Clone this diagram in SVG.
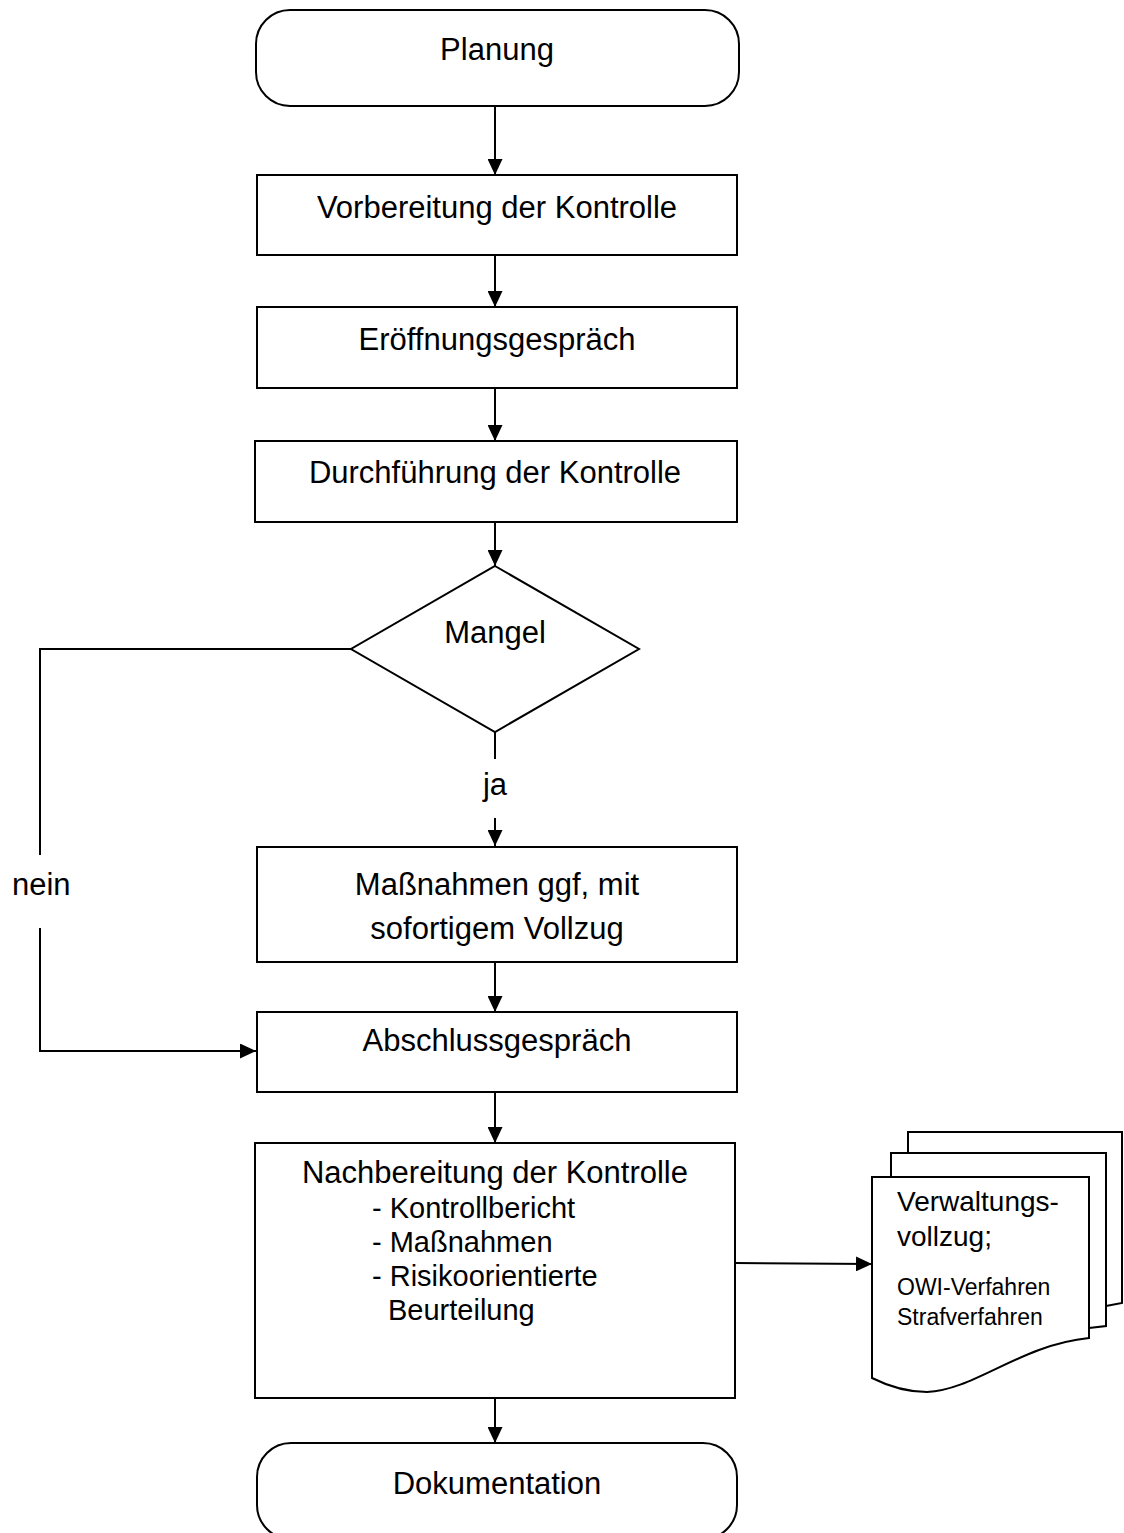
<svg xmlns="http://www.w3.org/2000/svg" width="1124" height="1533" viewBox="0 0 1124 1533">
<defs>
<marker id="ah" markerWidth="16" markerHeight="15" refX="16" refY="7.5" orient="auto" markerUnits="userSpaceOnUse">
<path d="M0,0 L16,7.5 L0,15 Z" fill="#000"/>
</marker>
<style>
.s{fill:#fff;stroke:#000;stroke-width:2}
.c{fill:none;stroke:#000;stroke-width:2}
.t{font-family:"Liberation Sans",Arial,sans-serif;font-size:31px;fill:#000}
.m{text-anchor:middle}
.b{font-size:29px}
.d{font-size:28px}
.e{font-size:23px}
</style>
</defs>
<rect width="1124" height="1533" fill="#fff"/>
<g id="connectors">
<line class="c" x1="495" y1="106" x2="495" y2="175" marker-end="url(#ah)"/>
<line class="c" x1="495" y1="255" x2="495" y2="307" marker-end="url(#ah)"/>
<line class="c" x1="495" y1="388" x2="495" y2="441" marker-end="url(#ah)"/>
<line class="c" x1="495" y1="522" x2="495" y2="566" marker-end="url(#ah)"/>
<line class="c" x1="495" y1="732" x2="495" y2="759"/>
<line class="c" x1="495" y1="818" x2="495" y2="846" marker-end="url(#ah)"/>
<line class="c" x1="495" y1="962" x2="495" y2="1012" marker-end="url(#ah)"/>
<polyline class="c" points="351,649 40,649 40,855"/>
<polyline class="c" points="40,928 40,1051 256,1051" marker-end="url(#ah)"/>
<line class="c" x1="495" y1="1092" x2="495" y2="1143" marker-end="url(#ah)"/>
<line class="c" x1="495" y1="1398" x2="495" y2="1443" marker-end="url(#ah)"/>
<line class="c" x1="735" y1="1263" x2="872" y2="1264" marker-end="url(#ah)"/>
<text class="t m" x="495" y="795">ja</text>
<text class="t" x="12" y="895">nein</text>
</g>
<g id="planung">
<rect class="s" x="256" y="10" width="483" height="96" rx="34" ry="34"/>
<text class="t m" x="497" y="60">Planung</text>
</g>
<g id="vorbereitung">
<rect class="s" x="257" y="175" width="480" height="80"/>
<text class="t m" x="497" y="218">Vorbereitung der Kontrolle</text>
</g>
<g id="eroeffnung">
<rect class="s" x="257" y="307" width="480" height="81"/>
<text class="t m" x="497" y="350">Eröffnungsgespräch</text>
</g>
<g id="durchfuehrung">
<rect class="s" x="255" y="441" width="482" height="81"/>
<text class="t m" x="495" y="483">Durchführung der Kontrolle</text>
</g>
<g id="mangel">
<polygon class="s" points="495,566 639,649 495,732 351,649"/>
<text class="t m" x="495" y="643">Mangel</text>
</g>
<g id="massnahmen">
<rect class="s" x="257" y="847" width="480" height="115"/>
<text class="t m" x="497" y="895">Maßnahmen ggf, mit</text>
<text class="t m" x="497" y="939">sofortigem Vollzug</text>
</g>
<g id="abschluss">
<rect class="s" x="257" y="1012" width="480" height="80"/>
<text class="t m" x="497" y="1051">Abschlussgespräch</text>
</g>
<g id="nachbereitung">
<rect class="s" x="255" y="1143" width="480" height="255"/>
<text class="t m" x="495" y="1183">Nachbereitung der Kontrolle</text>
<text class="t b" x="372" y="1218">- Kontrollbericht</text>
<text class="t b" x="372" y="1252">- Maßnahmen</text>
<text class="t b" x="372" y="1286">- Risikoorientierte</text>
<text class="t b" x="388" y="1320">Beurteilung</text>
</g>
<g id="dokumentation">
<rect class="s" x="257" y="1443" width="480" height="96" rx="34" ry="34"/>
<text class="t m" x="497" y="1494">Dokumentation</text>
</g>
<g id="verwaltungsvollzug">
<path class="s" d="M908,1153 V1132 H1122 V1303 L1106,1306"/>
<path class="s" d="M891,1177 V1153 H1106 V1326 L1089,1328"/>
<path class="s" d="M872,1177 H1089 V1338 C1020,1345 975,1390 927,1392 Q900,1392 872,1378 Z"/>
<text class="t d" x="897" y="1211">Verwaltungs-</text>
<text class="t d" x="897" y="1246">vollzug;</text>
<text class="t e" x="897" y="1295">OWI-Verfahren</text>
<text class="t e" x="897" y="1325">Strafverfahren</text>
</g>
</svg>
